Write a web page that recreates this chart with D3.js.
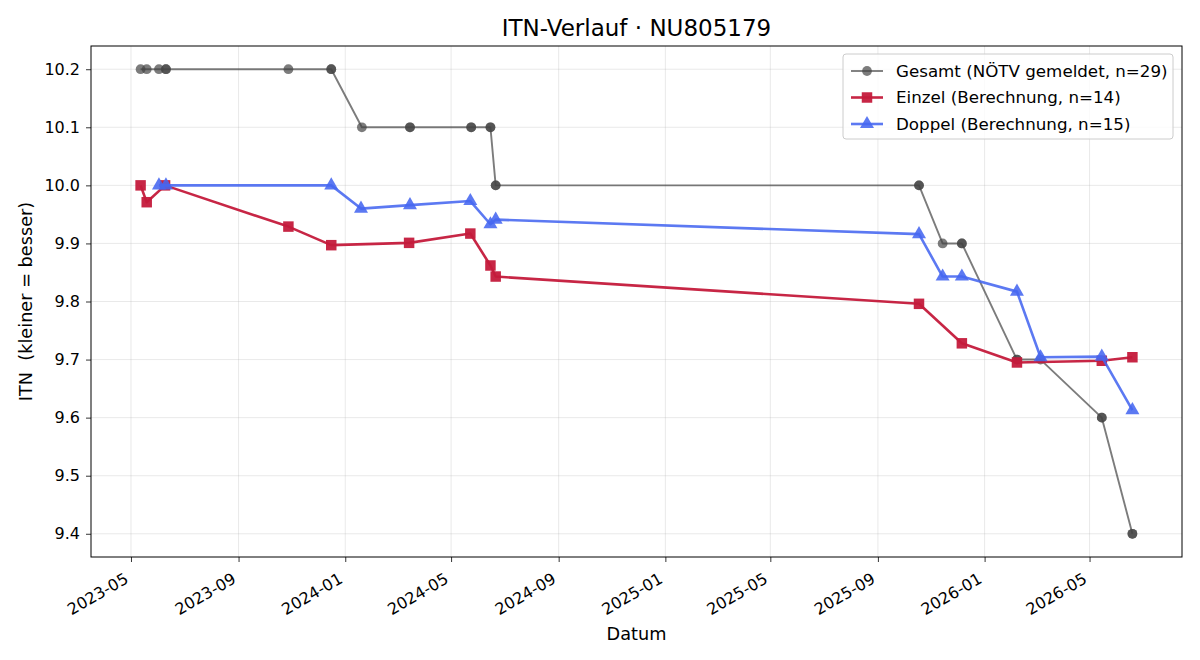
<!DOCTYPE html>
<html lang="de">
<head>
<meta charset="utf-8">
<title>ITN-Verlauf</title>
<script src="https://cdn.jsdelivr.net/npm/d3@7"></script>
<style>
  body { margin: 0; background: #fff; }
  text { font-family: "DejaVu Sans", sans-serif; fill: #000; }
</style>
</head>
<body>
<script>
// Gesamt (NÖTV gemeldet) - repeated dates are overlapping reports
var gesamtDates = ["2023-05-12","2023-05-19","2023-06-02","2023-06-10","2023-06-10","2023-10-28","2023-12-16","2023-12-16",
  "2024-01-20","2024-03-15","2024-03-15","2024-05-24","2024-05-24","2024-06-15","2024-06-15","2024-06-21","2024-06-21",
  "2025-10-18","2025-10-18","2025-11-14","2025-12-06","2025-12-06","2026-02-07","2026-02-07","2026-03-06",
  "2026-05-15","2026-05-15","2026-06-19","2026-06-19"];
var gesamtValues = [10.2,10.2,10.2,10.2,10.2,10.2,10.2,10.2,
  10.1,10.1,10.1,10.1,10.1,10.1,10.1,10.0,10.0,
  10.0,10.0,9.9,9.9,9.9,9.7,9.7,9.7,
  9.6,9.6,9.4,9.4];

var einzelDates = ["2023-05-12","2023-05-19","2023-06-09","2023-10-28","2023-12-16","2024-03-14","2024-05-23",
  "2024-06-15","2024-06-21","2025-10-18","2025-12-06","2026-02-07","2026-05-15","2026-06-19"];
var einzelValues = [10.0,9.971,10.0,9.929,9.897,9.901,9.917,9.862,9.843,9.796,9.728,9.695,9.698,9.704];

var doppelDates = ["2023-06-02","2023-06-10","2023-12-16","2024-01-19","2024-03-15","2024-05-23","2024-06-15","2024-06-21",
  "2025-10-18","2025-11-14","2025-12-06","2026-02-07","2026-03-06","2026-05-15","2026-06-19"];
var doppelValues = [10.0,10.0,10.0,9.960,9.966,9.973,9.933,9.941,9.916,9.843,9.843,9.817,9.704,9.705,9.613];

var yTicks = [9.4,9.5,9.6,9.7,9.8,9.9,10.0,10.1,10.2];

var W = 1200, H = 660;
var m = {left: 91, right: 18, top: 46, bottom: 103};
var pw = W - m.left - m.right, ph = H - m.top - m.bottom;

var parse = d3.utcParse("%Y-%m-%d");
function zip(ds, vs) { return ds.map(function (d, i) { return {date: parse(d), v: vs[i]}; }); }

var series = [
  {name: "Gesamt (NÖTV gemeldet, n=29)", data: zip(gesamtDates, gesamtValues), color: "#444", op: 0.7, lw: 1.9, shape: d3.symbolCircle, size: 75},
  {name: "Einzel (Berechnung, n=14)", data: zip(einzelDates, einzelValues), color: "#c41a3b", op: 0.95, lw: 2.6, shape: d3.symbolSquare, size: 110},
  {name: "Doppel (Berechnung, n=15)", data: zip(doppelDates, doppelValues), color: "#4566f0", op: 0.88, lw: 2.6, shape: d3.symbolTriangle, size: 85}
];

var all = series.reduce(function (a, s) { return a.concat(s.data); }, []);
var xe = d3.extent(all, function (d) { return d.date; });
var pad = (xe[1] - xe[0]) * 0.05;
var x = d3.scaleUtc().domain([new Date(+xe[0] - pad), new Date(+xe[1] + pad)]).range([0, pw]);
var ye = d3.extent(all, function (d) { return d.v; });
var yp = (ye[1] - ye[0]) * 0.05;
var y = d3.scaleLinear().domain([ye[0] - yp, ye[1] + yp]).range([ph, 0]);

var svg = d3.select("body").append("svg").attr("width", W).attr("height", H);
var g = svg.append("g").attr("transform", "translate(" + m.left + "," + m.top + ")");

var xTicks = x.ticks(d3.utcMonth.every(4));

// grid
g.append("g").selectAll("line").data(xTicks).join("line")
  .attr("x1", function (d) { return x(d); }).attr("x2", function (d) { return x(d); })
  .attr("y1", 0).attr("y2", ph).attr("stroke", "#b0b0b0").attr("stroke-opacity", 0.35).attr("stroke-width", 0.8);
g.append("g").selectAll("line").data(yTicks).join("line")
  .attr("y1", function (d) { return y(d); }).attr("y2", function (d) { return y(d); })
  .attr("x1", 0).attr("x2", pw).attr("stroke", "#b0b0b0").attr("stroke-opacity", 0.35).attr("stroke-width", 0.8);

// axes
var xAxis = g.append("g").attr("transform", "translate(0," + ph + ")")
  .call(d3.axisBottom(x).tickValues(xTicks).tickFormat(d3.utcFormat("%Y-%m")).tickSize(5));
xAxis.attr("font-size", null).attr("font-family", null);
xAxis.selectAll("text").style("font-size", "16px")
  .attr("text-anchor", "end").attr("x", 0).attr("y", 0).attr("dy", null)
  .attr("transform", "translate(-2,25) rotate(-30)");
var yAxis = g.append("g")
  .call(d3.axisLeft(y).tickValues(yTicks).tickFormat(d3.format(".1f")).tickSize(5).tickPadding(6));
yAxis.attr("font-size", null).attr("font-family", null);
yAxis.selectAll("text").style("font-size", "16px");
g.selectAll(".domain").remove();
g.selectAll(".tick line").attr("stroke", "#000").attr("stroke-width", 0.8);

// lines + markers
var line = d3.line().x(function (d) { return x(d.date); }).y(function (d) { return y(d.v); });
series.forEach(function (s) {
  var sg = g.append("g");
  sg.append("path").datum(s.data).attr("d", line).attr("fill", "none")
    .attr("stroke", s.color).attr("stroke-opacity", s.op).attr("stroke-width", s.lw)
    .attr("stroke-linejoin", "round");
  sg.selectAll("path.mk").data(s.data).join("path").attr("class", "mk")
    .attr("d", d3.symbol().type(s.shape).size(s.size))
    .attr("transform", function (d) { return "translate(" + x(d.date) + "," + y(d.v) + ")"; })
    .attr("fill", s.color).attr("fill-opacity", s.op);
});

// frame
g.append("rect").attr("width", pw).attr("height", ph).attr("fill", "none").attr("stroke", "#000").attr("stroke-width", 1);

// titles
svg.append("text").attr("x", m.left + pw / 2).attr("y", 36).attr("text-anchor", "middle")
  .style("font-size", "23px").text("ITN-Verlauf · NU805179");
svg.append("text").attr("x", m.left + pw / 2).attr("y", 640).attr("text-anchor", "middle")
  .style("font-size", "17.7px").text("Datum");
svg.append("text").attr("transform", "translate(32," + (m.top + ph / 2) + ") rotate(-90)")
  .attr("text-anchor", "middle").style("font-size", "17.7px").style("white-space", "pre")
  .text("ITN  (kleiner = besser)");

// legend
var lg = svg.append("g").attr("transform", "translate(843,54)");
lg.append("rect").attr("width", 330).attr("height", 85).attr("rx", 3)
  .attr("fill", "#fff").attr("fill-opacity", 0.8).attr("stroke", "#ccc");
series.forEach(function (s, i) {
  var yy = 17 + i * 26.5;
  lg.append("line").attr("x1", 8).attr("x2", 40).attr("y1", yy).attr("y2", yy)
    .attr("stroke", s.color).attr("stroke-opacity", s.op).attr("stroke-width", s.lw);
  lg.append("path").attr("d", d3.symbol().type(s.shape).size(s.size))
    .attr("transform", "translate(24," + yy + ")").attr("fill", s.color).attr("fill-opacity", s.op);
  lg.append("text").attr("x", 53).attr("y", yy).attr("dy", "0.35em").style("font-size", "16.7px").text(s.name);
});
</script>
</body>
</html>
